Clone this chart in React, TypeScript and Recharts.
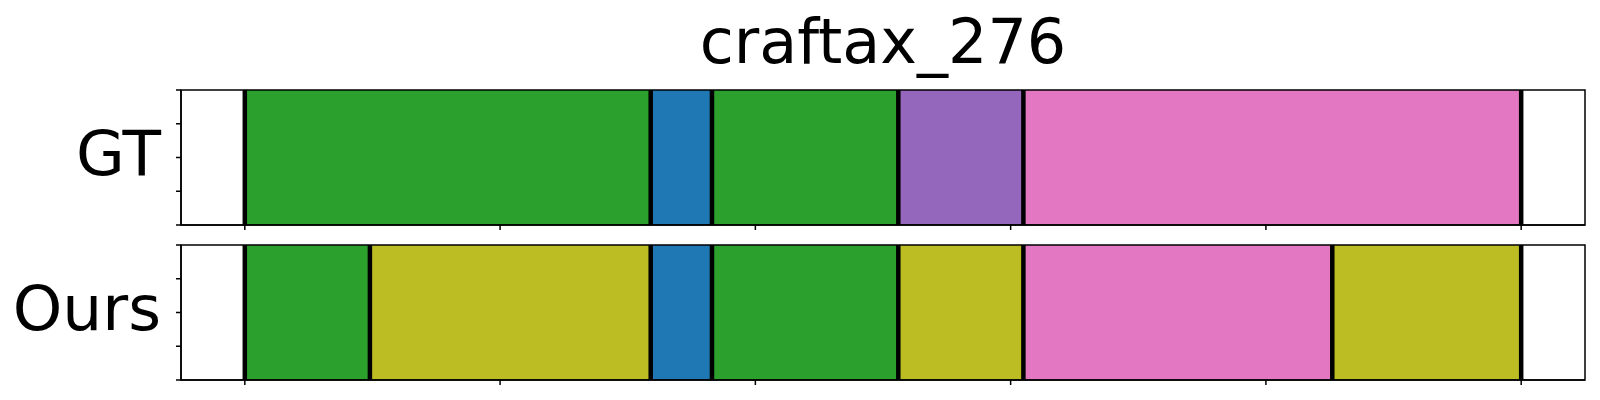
import { ComposedChart, XAxis, YAxis, ReferenceArea, ReferenceLine } from 'recharts'

// segment boundaries (time steps) and class index per segment
const gtBounds = [0, 159, 183, 256, 305, 500]
const gtClasses = [2, 0, 2, 4, 6]
const oursBounds = [0, 49, 159, 183, 256, 305, 426, 500]
const oursClasses = [2, 8, 0, 2, 8, 6, 8]
const xTicks = [0, 100, 200, 300, 400, 500]
const yTicks = [0, 0.25, 0.5, 0.75, 1]
const title = 'craftax_276'

const tab10 = ['#1f77b4', '#ff7f0e', '#2ca02c', '#d62728', '#9467bd', '#8c564b', '#e377c2', '#7f7f7f', '#bcbd22', '#17becf']
const FONT = 'DejaVu Sans, sans-serif'
const axisStyle = { stroke: '#000', strokeWidth: 1.5 }
const noLabel = () => <g />

function Row({ name, bounds, classes, top }: { name: string; bounds: number[]; classes: number[]; top: number }) {
  const pts = bounds.map(x => ({ x }))
  return (
    <div style={{ position: 'absolute', left: 0, top }}>
      <ComposedChart width={1600} height={155} data={pts} margin={{ top: 10, right: 15, bottom: 0, left: 0 }}>
        <XAxis dataKey="x" type="number" domain={[-25, 525]} ticks={xTicks} allowDataOverflow
          tick={noLabel} tickSize={5} height={10} axisLine={axisStyle} tickLine={axisStyle} />
        <YAxis type="number" domain={[0, 1]} ticks={yTicks} allowDataOverflow width={181}
          tick={noLabel} tickSize={5} axisLine={axisStyle} tickLine={axisStyle}
          label={{
            content: ({ viewBox }: any) => (
              <text x={viewBox.x + viewBox.width - 20} y={viewBox.y + viewBox.height / 2 + 17}
                textAnchor="end" fontSize={63} fontFamily={FONT} fill="#000">{name}</text>
            ),
          }} />
        {classes.map((c, i) => (
          <ReferenceArea key={'s' + i} x1={bounds[i]} x2={bounds[i + 1]} y1={0} y2={1}
            fill={tab10[c]} fillOpacity={1} stroke="none" />
        ))}
        {bounds.map((b, i) => (
          <ReferenceLine key={'b' + i} x={b} stroke="#000" strokeWidth={4.5} />
        ))}
        <ReferenceArea x1={-25} x2={525} y1={0} y2={1} fill="none" stroke="#000" strokeWidth={1.5} />
      </ComposedChart>
    </div>
  )
}

export default function App() {
  return (
    <div style={{ position: 'absolute', left: 0, top: 0, width: 1600, height: 400, background: '#fff' }}>
      <svg width={1600} height={90} style={{ position: 'absolute', left: 0, top: 0 }}>
        <text x={883} y={63} textAnchor="middle" fontSize={62} fontFamily={FONT} fill="#000">{title}</text>
      </svg>
      <Row name="GT" bounds={gtBounds} classes={gtClasses} top={80} />
      <Row name="Ours" bounds={oursBounds} classes={oursClasses} top={235} />
    </div>
  )
}
